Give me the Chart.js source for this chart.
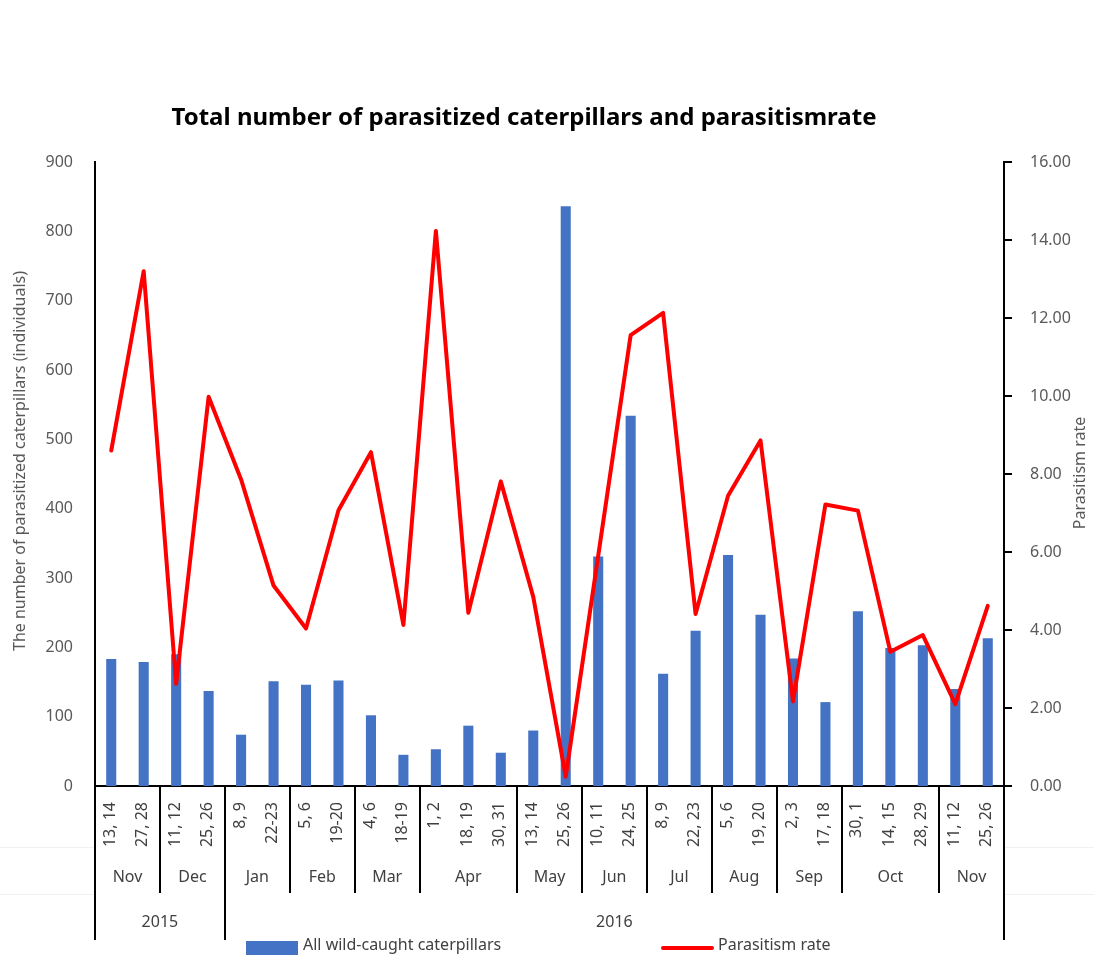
<!DOCTYPE html>
<html>
<head>
<meta charset="utf-8">
<script src="https://cdn.jsdelivr.net/npm/chart.js@4.4.1/dist/chart.umd.min.js"></script>
<style>
  html, body { margin: 0; padding: 0; background: #ffffff; }
  #wrap { width: 1094px; height: 955px; position: relative; }
</style>
</head>
<body>
<div id="wrap"><canvas id="c" width="1094" height="955"></canvas></div>
<script>
// Sampling dates (day pairs) grouped by month and year
const dateLabels = ['13, 14','27, 28','11, 12','25, 26','8, 9','22-23','5, 6','19-20','4, 6','18-19',
                    '1, 2','18, 19','30, 31','13, 14','25, 26','10, 11','24, 25','8, 9','22, 23','5, 6',
                    '19, 20','2, 3','17, 18','30, 1','14, 15','28, 29','11, 12','25, 26'];
const monthNames = ['Nov','Dec','Jan','Feb','Mar','Apr','May','Jun','Jul','Aug','Sep','Oct','Nov'];
const monthSizes = [2, 2, 2, 2, 2, 3, 2, 2, 2, 2, 2, 3, 2];
const yearNames = ['2015', '2016'];
const yearSizes = [4, 24];

// Series
const caterpillars = [183, 179, 190, 137, 74, 151, 146, 152, 102, 45,
                      53, 87, 48, 80, 836, 331, 534, 162, 224, 333,
                      247, 184, 121, 252, 199, 203, 140, 213];
const parasitismRate = [8.60, 13.20, 2.62, 9.98, 7.86, 5.14, 4.04, 7.07, 8.56, 4.13,
                        14.23, 4.44, 7.81, 4.85, 0.24, 5.90, 11.56, 12.13, 4.41, 7.44,
                        8.86, 2.17, 7.22, 7.06, 3.44, 3.87, 2.10, 4.62];

// Axis ranges
const countMax = 900, countStep = 100;
const rateMax = 16, rateStep = 2;

const FONT = '"Noto Sans", "DejaVu Sans", sans-serif';
const BLUE = '#4472C4';
const RED = '#FF0000';

// Multi-level category axis, axis titles, chart title and legend
const decorations = {
  id: 'decorations',
  afterDraw(chart) {
    const ctx = chart.ctx;
    const area = chart.chartArea;
    const xs = chart.scales.x;
    const half = (xs.getPixelForValue(1) - xs.getPixelForValue(0)) / 2;
    const leftEdge = i => xs.getPixelForValue(i) - half;
    const rightEdge = i => xs.getPixelForValue(i) + half;
    const b = area.bottom;

    ctx.save();

    // faint row guides outside the plot
    ctx.strokeStyle = '#f0f0f0';
    ctx.lineWidth = 1;
    [b + 61, b + 108].forEach(y => {
      ctx.beginPath();
      ctx.moveTo(0, y + 0.5); ctx.lineTo(area.left - 1, y + 0.5);
      ctx.moveTo(area.right + 1, y + 0.5); ctx.lineTo(chart.width, y + 0.5);
      ctx.stroke();
    });

    // date labels, rotated
    ctx.fillStyle = '#404040';
    ctx.font = '16px ' + FONT;
    ctx.textAlign = 'right';
    ctx.textBaseline = 'middle';
    dateLabels.forEach((lab, i) => {
      ctx.save();
      ctx.translate(xs.getPixelForValue(i) - 1, b + 16);
      ctx.rotate(-Math.PI / 2);
      ctx.fillText(lab, 0, 0);
      ctx.restore();
    });

    ctx.strokeStyle = '#000000';
    ctx.lineWidth = 2;

    // month labels and separators
    ctx.textAlign = 'center';
    let idx = 0;
    monthNames.forEach((m, k) => {
      const x0 = leftEdge(idx), x1 = rightEdge(idx + monthSizes[k] - 1);
      ctx.fillText(m, (x0 + x1) / 2, b + 91);
      idx += monthSizes[k];
      if (idx < dateLabels.length) {
        ctx.beginPath();
        ctx.moveTo(Math.round(x1), b);
        ctx.lineTo(Math.round(x1), b + 107);
        ctx.stroke();
      }
    });

    // year labels and separators
    idx = 0;
    yearNames.forEach((yName, k) => {
      const x0 = leftEdge(idx), x1 = rightEdge(idx + yearSizes[k] - 1);
      ctx.fillText(yName, (x0 + x1) / 2, b + 136);
      idx += yearSizes[k];
      ctx.beginPath();
      ctx.moveTo(Math.round(x1), b);
      ctx.lineTo(Math.round(x1), b + 154);
      ctx.stroke();
    });
    // left and right axis lines continue through the label rows
    ctx.beginPath();
    ctx.moveTo(area.left, b); ctx.lineTo(area.left, b + 154);
    ctx.moveTo(area.right, b); ctx.lineTo(area.right, b + 154);
    ctx.stroke();

    // axis titles
    ctx.fillStyle = '#595959';
    ctx.font = '16px ' + FONT;
    ctx.textBaseline = 'middle';
    ctx.save();
    ctx.translate(20, 461);
    ctx.rotate(-Math.PI / 2);
    ctx.fillText('The number of parasitized caterpillars (individuals)', 0, 0);
    ctx.restore();
    ctx.save();
    ctx.translate(1080, 473);
    ctx.rotate(-Math.PI / 2);
    ctx.fillText('Parasitism rate', 0, 0);
    ctx.restore();

    // chart title
    ctx.fillStyle = '#000000';
    ctx.font = 'bold 24px ' + FONT;
    ctx.fillText('Total number of parasitized caterpillars and parasitismrate', 524, 118);

    // legend
    const ds = chart.data.datasets;
    ctx.font = '16px ' + FONT;
    ctx.textAlign = 'left';
    ctx.fillStyle = ds[1].backgroundColor;
    ctx.fillRect(246, 941, 52, 14);
    ctx.fillStyle = '#404040';
    ctx.fillText(ds[1].label, 303, 945);
    ctx.strokeStyle = ds[0].borderColor;
    ctx.lineWidth = 4;
    ctx.lineCap = 'round';
    ctx.beginPath();
    ctx.moveTo(663, 948); ctx.lineTo(712, 948);
    ctx.stroke();
    ctx.fillText(ds[0].label, 718, 945);

    ctx.restore();
  }
};

new Chart(document.getElementById('c'), {
  data: {
    labels: dateLabels,
    datasets: [
      {
        type: 'line',
        label: 'Parasitism rate',
        data: parasitismRate,
        yAxisID: 'y1',
        borderColor: RED,
        backgroundColor: RED,
        borderWidth: 4,
        pointRadius: 0,
        tension: 0,
        borderJoinStyle: 'round',
        borderCapStyle: 'round',
        order: 0
      },
      {
        type: 'bar',
        label: 'All wild-caught caterpillars',
        data: caterpillars,
        yAxisID: 'y',
        backgroundColor: BLUE,
        borderWidth: 0,
        categoryPercentage: 1.0,
        barPercentage: 0.31,
        order: 1
      }
    ]
  },
  options: {
    responsive: false,
    animation: false,
    events: [],
    layout: { padding: { top: 162, bottom: 169, left: 0, right: 0 } },
    plugins: { legend: { display: false }, title: { display: false }, tooltip: { enabled: false } },
    scales: {
      x: {
        type: 'category',
        offset: true,
        grid: { display: false, drawTicks: false },
        border: { display: true, color: '#000000', width: 2 },
        ticks: { display: false },
        afterFit: s => { s.height = 0; }
      },
      y: {
        position: 'left',
        min: 0, max: countMax,
        ticks: { stepSize: countStep, color: '#595959', font: { family: FONT, size: 16 }, padding: 22 },
        grid: { display: false, drawTicks: false },
        border: { display: true, color: '#000000', width: 2 },
        afterFit: s => { s.width = 95; }
      },
      y1: {
        position: 'right',
        min: 0, max: rateMax,
        ticks: {
          stepSize: rateStep, color: '#595959', font: { family: FONT, size: 16 }, padding: 18,
          callback: v => Number(v).toFixed(2)
        },
        grid: { drawOnChartArea: false, drawTicks: true, tickLength: 8, color: '#000000', lineWidth: 2 },
        border: { display: true, color: '#000000', width: 2 },
        afterFit: s => { s.width = 90; }
      }
    }
  },
  plugins: [decorations]
});
</script>
</body>
</html>
